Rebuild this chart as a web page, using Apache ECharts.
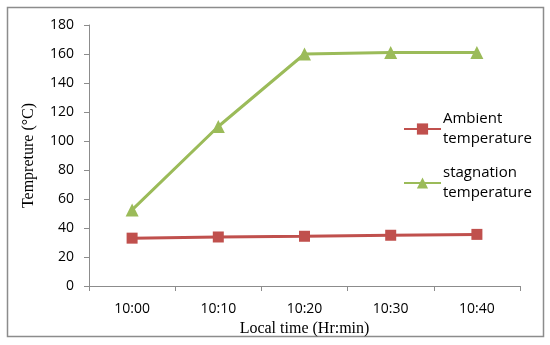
<!DOCTYPE html>
<html><head><meta charset="utf-8">
<script src="https://cdn.jsdelivr.net/npm/echarts@6/dist/echarts.min.js"></script>
<style>html,body{margin:0;padding:0;background:#fff}#c{width:550px;height:345px}</style>
</head><body><div id="c"></div>
<script>
const categories = ['10:00','10:10','10:20','10:30','10:40'];
const ambient = [33, 33.8, 34.3, 35, 35.6];
const stagnation = [52.5, 110, 160, 161, 161];
const yTicks = [0,20,40,60,80,100,120,140,160,180];

const chart = echarts.init(document.getElementById('c'));
const sans = 'Open Sans';
chart.setOption({
  animation: false,
  backgroundColor: '#fff',
  graphic: [{type:'rect', shape:{x:7.5,y:7.5,width:536,height:329}, style:{fill:'none', stroke:'#8c8c8c', lineWidth:1.5}, silent:true}],
  grid: {left: 89, right: 30, top: 25, bottom: 59},
  legend: {
    orient: 'vertical', left: 398, top: 104, itemWidth: 37, itemHeight: 14, itemGap: 14,
    textStyle: {fontFamily: sans, fontSize: 15, color: '#000', lineHeight: 20, padding: [0,0,0,-3]},
    data: [{name:'Ambient\ntemperature'}, {name:'stagnation\ntemperature'}]
  },
  xAxis: {
    type: 'category', data: categories, boundaryGap: true,
    name: 'Local time (Hr:min)', nameLocation: 'middle', nameGap: 31,
    nameTextStyle: {fontFamily: 'Liberation Serif', fontSize: 16, color: '#000'},
    axisLine: {lineStyle: {color: '#8c8c8c', width: 1}},
    axisTick: {show: true, length: 5, lineStyle: {color: '#8c8c8c'}},
    axisLabel: {fontFamily: sans, fontSize: 14, color: '#000', margin: 16}
  },
  yAxis: {
    type: 'value', min: 0, max: 180, interval: 20,
    name: 'Tempreture (°C)', nameLocation: 'middle', nameGap: 52, nameRotate: 90,
    nameTextStyle: {fontFamily: 'Liberation Serif', fontSize: 16, color: '#000'},
    axisLine: {show: true, lineStyle: {color: '#8c8c8c', width: 1}},
    axisTick: {show: true, length: 5, lineStyle: {color: '#8c8c8c'}},
    splitLine: {show: false},
    axisLabel: {fontFamily: sans, fontSize: 14, color: '#000', margin: 15,
      formatter: v => yTicks.includes(v) ? String(v) : ''}
  },
  series: [
    {name:'Ambient\ntemperature', type:'line', data: ambient, symbol:'rect', symbolSize: 11,
     itemStyle:{color:'#C0504D'}, lineStyle:{color:'#C0504D', width:3}},
    {name:'stagnation\ntemperature', type:'line', data: stagnation, symbol:'triangle', symbolSize: 13,
     itemStyle:{color:'#9BBB59'}, lineStyle:{color:'#9BBB59', width:3}}
  ]
});
</script></body></html>
